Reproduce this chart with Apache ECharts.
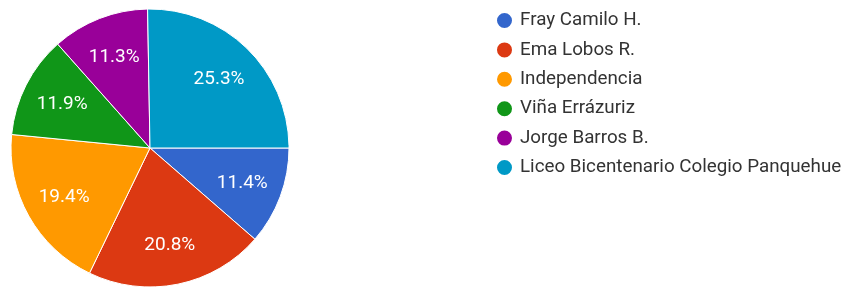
<!DOCTYPE html>
<html><head><meta charset="utf-8">
<script src="https://cdn.jsdelivr.net/npm/echarts@6/dist/echarts.min.js"></script>
<style>html,body{margin:0;padding:0;background:#fff}#c{width:847px;height:288px}</style>
</head><body><div id="c"></div>
<script>
const categories = ['Fray Camilo H.', 'Ema Lobos R.', 'Independencia', 'Viña Errázuriz', 'Jorge Barros B.', 'Liceo Bicentenario Colegio Panquehue'];
const values = [11.4, 20.8, 19.4, 11.9, 11.3, 25.3];
const colors = ['#3366cc', '#dc3912', '#ff9900', '#109618', '#990099', '#0099c6'];

const data = categories.map((n, i) => ({ name: n, value: values[i], itemStyle: { color: colors[i] } }));
const chart = echarts.init(document.getElementById('c'), null, { renderer: 'canvas' });
chart.setOption({
  animation: false,
  legend: {
    orient: 'vertical', left: 490, top: 6, itemGap: 10.4,
    icon: 'circle', itemWidth: 17, itemHeight: 17,
    textStyle: { fontFamily: 'Roboto', fontSize: 18.8, lineHeight: 19, color: '#333', padding: [0, 0, 0, 2] },
    data: categories
  },
  series: [
    {
      type: 'pie', center: [150, 148], radius: [0, 139], startAngle: 0, clockwise: true,
      itemStyle: { borderColor: '#fff', borderWidth: 1 },
      label: { show: false }, labelLine: { show: false },
      emphasis: { disabled: true },
      data: data
    },
    {
      type: 'pie', center: [150, 149], radius: [50, 141], startAngle: 0, clockwise: true,
      silent: true, legendHoverLink: false,
      itemStyle: { color: 'rgba(0,0,0,0)', borderWidth: 0 },
      label: { show: true, position: 'inside', formatter: p => p.value.toFixed(1) + '%', color: '#fff', fontFamily: 'Roboto', fontSize: 19 },
      labelLine: { show: false },
      emphasis: { disabled: true },
      data: categories.map((n, i) => ({ name: n, value: values[i], itemStyle: { color: 'rgba(0,0,0,0)' } }))
    }
  ]
});
</script></body></html>
